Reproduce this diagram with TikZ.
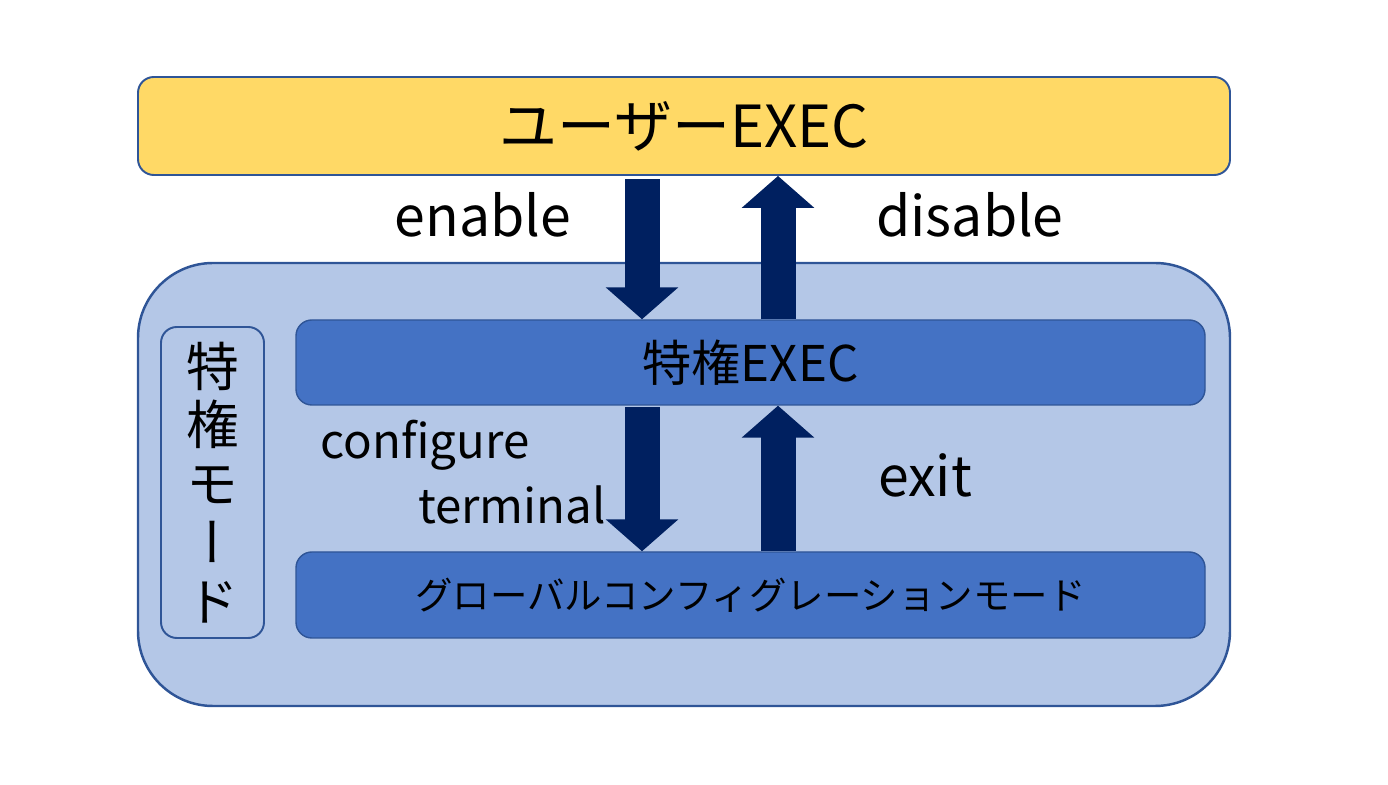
\documentclass[tikz,border=0pt]{standalone}
\usepackage{fontspec}
\setmainfont{Noto Sans CJK JP}
\newfontfamily\vjp[RawFeature=+vert]{Noto Sans CJK JP}
\usetikzlibrary{arrows.meta,positioning,calc}
\definecolor{modeyellow}{HTML}{FFD966}
\definecolor{modeline}{HTML}{2F5597}
\definecolor{privfill}{HTML}{B4C7E7}
\definecolor{execblue}{HTML}{4472C4}
\definecolor{navy}{HTML}{002060}
\tikzset{
  mode/.style={draw=modeline, line width=1.1pt, rounded corners=9pt, inner sep=0pt, align=center},
  modey/.style={mode, fill=modeyellow},
  modeb/.style={mode, fill=execblue, line width=.8pt},
  model/.style={mode, fill=privfill},
  bigar/.style={draw=navy, line width=.7cm, -{Triangle[length=.64cm, width=1.42cm]}},
  cmd/.style={font=\fontsize{27}{32}\selectfont},
  cmdl/.style={font=\fontsize{31.5}{36}\selectfont},
}

\begin{document}
\begin{tikzpicture}
  \useasboundingbox (0,0) rectangle (27.76,15.70);
  % outer privileged area
  \node[model, rounded corners=1.5cm, line width=1.4pt, minimum width=21.84cm, minimum height=8.86cm] (priv) at (13.68,6.01) {};
  \node[modey, minimum width=21.84cm, minimum height=1.96cm, font=\fontsize{33}{36}\selectfont] (user) at (13.68,13.18) {ユーザーEXEC};
  \node[model, minimum width=2.06cm, minimum height=6.22cm, font=\fontsize{30}{33.5}\selectfont\vjp] (side) at (4.25,6.05) {特\\権\\モ\\ー\\ド};
  \node[modeb, minimum width=18.18cm, minimum height=1.70cm, font=\fontsize{28}{32}\selectfont] (exec) at (15.01,8.45) {特権EXEC};
  \node[modeb, minimum width=18.18cm, minimum height=1.72cm, font=\fontsize{21.3}{24}\selectfont] (glob) at (15.01,3.80) {グローバルコンフィグレーションモード};
  % arrow columns
  \coordinate (dn) at (12.84,0);
  \coordinate (up) at (15.56,0);
  \draw[bigar, shorten <=2pt] (user.south -| dn) -- (exec.north -| dn);
  \draw[bigar] (exec.north -| up) -- (user.south -| up);
  \draw[bigar, shorten <=1pt] (exec.south -| dn) -- (glob.north -| dn);
  \draw[bigar] (glob.north -| up) -- (exec.south -| up);
  % commands
  \node[cmdl] (en) at (9.66,11.40) {enable};
  \node[cmdl] (dis) at (19.40,11.40) {disable};
  \node[cmd] (cfg) at (8.50,6.80) {configure};
  \node[cmd] (term) at (10.24,5.60) {terminal};
  \node[cmdl] (ex) at (18.50,6.20) {exit};
\end{tikzpicture}
\end{document}
